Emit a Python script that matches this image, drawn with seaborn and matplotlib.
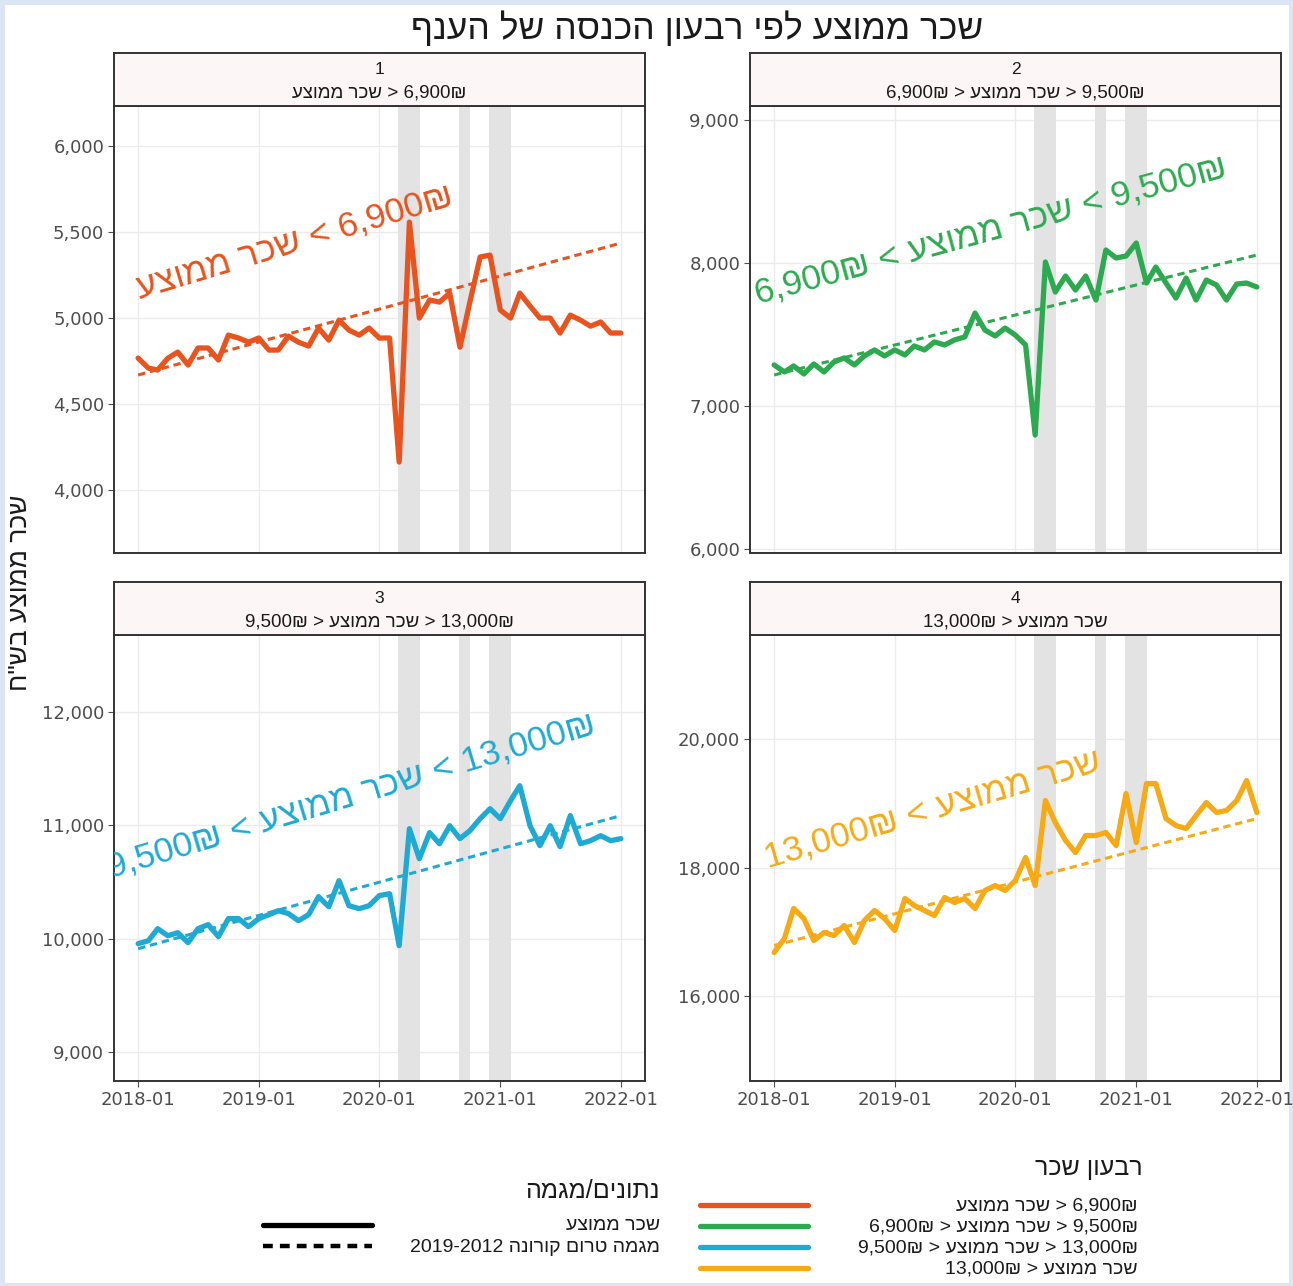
import numpy as np
import pandas as pd
import matplotlib
matplotlib.use("Agg")
import matplotlib.pyplot as plt
import matplotlib.dates as mdates
from matplotlib.lines import Line2D
from matplotlib.patches import Rectangle
from matplotlib.ticker import FuncFormatter, FixedLocator
import seaborn as sns

sns.set_theme(style="white")
plt.rcParams["font.family"] = ["Liberation Sans", "DejaVu Sans"]

# ---------------- data ----------------
months = pd.date_range("2018-01-01", "2022-01-01", freq="MS")

wage_q1 = [4767, 4709, 4698, 4767, 4802, 4727, 4826, 4826, 4756, 4901, 4884, 4860,
           4884, 4814, 4814, 4895, 4860, 4837, 4942, 4872, 4988, 4930, 4901, 4942,
           4884, 4884, 4163, 5558, 5000, 5105, 5093, 5145, 4831, 5093, 5355, 5366,
           5047, 5000, 5145, 5070, 5000, 5000, 4913, 5017, 4988, 4953, 4977, 4913,
           4913]
wage_q2 = [7287, 7238, 7280, 7224, 7294, 7238, 7308, 7336, 7287, 7350, 7392, 7350,
           7392, 7357, 7420, 7392, 7448, 7427, 7462, 7483, 7650, 7531, 7490, 7545,
           7496, 7427, 6797, 8007, 7797, 7909, 7811, 7909, 7741, 8091, 8035, 8049,
           8140, 7860, 7972, 7860, 7755, 7895, 7741, 7881, 7846, 7741, 7853, 7860,
           7832]
wage_q3 = [9956, 9982, 10088, 10026, 10053, 9965, 10088, 10124, 10018, 10177, 10177, 10106,
           10177, 10212, 10247, 10221, 10159, 10212, 10371, 10282, 10512, 10291, 10265, 10291,
           10380, 10397, 9938, 10971, 10706, 10936, 10838, 10997, 10883, 10953, 11059, 11147,
           11059, 11218, 11350, 10997, 10821, 10997, 10812, 11086, 10838, 10865, 10909, 10865,
           10883]
wage_q4 = [16677, 16895, 17362, 17206, 16864, 16988, 16942, 17097, 16833, 17175, 17331, 17206,
           17020, 17518, 17409, 17331, 17253, 17533, 17455, 17518, 17362, 17642, 17720, 17642,
           17798, 18156, 17720, 19042, 18700, 18420, 18233, 18498, 18498, 18545, 18342, 19151,
           18389, 19307, 19307, 18762, 18653, 18607, 18809, 19011, 18856, 18887, 19042, 19353,
           18856]

trend_dates = ["2018-01-01", "2022-01-01"]
trend_q1 = [4669, 5436]
trend_q2 = [7217, 8056]
trend_q3 = [9912, 11086]
trend_q4 = [16786, 18762]

lockdowns = [("2020-02-27", "2020-05-04"), ("2020-08-29", "2020-10-01"),
             ("2020-11-28", "2021-02-03")]

y_ticks = [[4000, 4500, 5000, 5500, 6000], [6000, 7000, 8000, 9000],
           [9000, 10000, 11000, 12000], [16000, 18000, 20000]]
x_tick_dates = ["2018-01-01", "2019-01-01", "2020-01-01", "2021-01-01", "2022-01-01"]


def rv(s):
    return s[::-1]


AVG = rv("שכר ממוצע")
strip_labels = [AVG + " > 6,900₪",
                "6,900₪ > " + AVG + " > 9,500₪",
                "9,500₪ > " + AVG + " > 13,000₪",
                "13,000₪ > " + AVG]
annot_labels = [AVG + " < 6,900₪",
                "6,900₪ < " + AVG + " < 9,500₪",
                "9,500₪ < " + AVG + " < 13,000₪",
                "13,000₪ < " + AVG]
title = rv("שכר ממוצע לפי רבעון הכנסה של הענף")
ylabel = rv('שכר ממוצע בש"ח')
leg1_title = rv("נתונים/מגמה")
leg1_items = [rv("שכר ממוצע"), "2019-2012 " + rv("מגמה טרום קורונה")]
leg2_title = rv("רבעון שכר")

colors = ["#E9531D", "#2DAA4F", "#1EAAD3", "#F7AA14"]

df = pd.DataFrame({
    "month": np.tile(months, 4),
    "wage": np.concatenate([wage_q1, wage_q2, wage_q3, wage_q4]),
    "group": np.repeat([1, 2, 3, 4], len(months)),
})
trend_df = pd.DataFrame({
    "month": np.tile(pd.to_datetime(trend_dates), 4),
    "wage": np.concatenate([trend_q1, trend_q2, trend_q3, trend_q4]),
    "group": np.repeat([1, 2, 3, 4], 2),
})

# ---------------- layout ----------------
W, H = 1293, 1286
fig = plt.figure(figsize=(W / 100, H / 100), dpi=100)
fig.patch.set_facecolor("#DCE5F3")
fig.add_artist(Rectangle((5 / W, 3 / H), (W - 9) / W, (H - 8) / H,
                         transform=fig.transFigure, facecolor="white",
                         edgecolor="none", zorder=0))


def fx(x):
    return x / W


def fy(y):
    return 1 - y / H


panel_px = [(114, 645, 106, 553), (750, 1281, 106, 553),
            (114, 645, 635, 1081), (750, 1281, 635, 1081)]
strip_h = 53
ylims = [(3634, 6233), (5972, 9098), (8744, 12680), (14677, 21619)]
annot_pos = [("2019-04-20", 5440, 16.7), ("2019-10-20", 8225, 15.2),
             ("2019-10-10", 11262, 16.6), ("2019-04-25", 18905, 16.3)]

x0d = mdates.date2num(pd.Timestamp("2018-01-01"))
x1d = mdates.date2num(pd.Timestamp("2022-01-01"))
pad = (x1d - x0d) * 0.05
edge = "#333333"
tick_col = "#4D4D4D"
txt_col = "#1A1A1A"

for i, g in enumerate([1, 2, 3, 4]):
    xl, xr, yt, yb = panel_px[i]
    ax = fig.add_axes([fx(xl), fy(yb), (xr - xl) / W, (yb - yt) / H])
    ax.set_facecolor("white")
    for s, e in lockdowns:
        ax.axvspan(pd.Timestamp(s), pd.Timestamp(e), color="#E3E3E3", lw=0, zorder=0.8)
    sub = df[df.group == g]
    tsub = trend_df[trend_df.group == g]
    sns.lineplot(data=tsub, x="month", y="wage", ax=ax, color=colors[i], lw=2.2,
                 linestyle=(0, (2.4, 1.6)), legend=False, zorder=2)
    sns.lineplot(data=sub, x="month", y="wage", ax=ax, color=colors[i], lw=3.8,
                 legend=False, zorder=3, solid_joinstyle="round", solid_capstyle="round")
    ax.set_xlim(x0d - pad, x1d + pad)
    ax.set_ylim(*ylims[i])
    ax.xaxis.set_major_locator(FixedLocator([mdates.date2num(pd.Timestamp(d)) for d in x_tick_dates]))
    ax.yaxis.set_major_locator(FixedLocator(y_ticks[i]))
    ax.yaxis.set_major_formatter(FuncFormatter(lambda v, p: f"{v:,.0f}"))
    ax.set_xlabel("")
    ax.set_ylabel("")
    ax.grid(True, color="#EBEBEB", lw=1.0)
    ax.set_axisbelow(True)
    ax.tick_params(axis="both", which="major", length=4, width=0.8, color=tick_col,
                   labelcolor=tick_col, labelsize=13, pad=3, bottom=True, left=True)
    if i >= 2:
        ax.set_xticklabels([pd.Timestamp(d).strftime("%Y-%m") for d in x_tick_dates])
    else:
        ax.set_xticklabels([])
        ax.tick_params(axis="x", length=0)
    for lab in ax.get_xticklabels() + ax.get_yticklabels():
        lab.set_family(["DejaVu Sans"])
    for sp in ax.spines.values():
        sp.set_color(edge)
        sp.set_linewidth(1.4)
    d, v, rot = annot_pos[i]
    ax.text(pd.Timestamp(d), v, annot_labels[i], color=colors[i], fontsize=25.5,
            rotation=rot, rotation_mode="anchor", ha="center", va="center",
            clip_on=True, zorder=4)

    sax = fig.add_axes([fx(xl), fy(yt), (xr - xl) / W, strip_h / H])
    sax.set_facecolor("#FDF6F6")
    sax.set_xticks([])
    sax.set_yticks([])
    for sp in sax.spines.values():
        sp.set_color(edge)
        sp.set_linewidth(1.4)
    sax.text(0.5, 0.69, str(g), ha="center", va="center", fontsize=12.5, color=txt_col)
    sax.text(0.5, 0.25, strip_labels[i], ha="center", va="center", fontsize=13.5,
             color=txt_col)

# title & y label
fig.text(fx(697), fy(28), title, ha="center", va="center", fontsize=25.5, color=txt_col)
fig.text(fx(20), fy(593), ylabel, ha="center", va="center", rotation=90, fontsize=19,
         color=txt_col)

# legend 1 (data / trend)
fig.text(fx(660), fy(1191), leg1_title, ha="right", va="center", fontsize=18,
         color=txt_col)
for k, (yy, ls) in enumerate([(1225, "-"), (1246, (0, (2.2, 1.6)))]):
    fig.add_artist(Line2D([fx(263), fx(372)], [fy(yy), fy(yy)], color="black",
                          lw=3.8 if k == 0 else 3.2, ls=ls, transform=fig.transFigure))
    fig.text(fx(660), fy(yy + 1), leg1_items[k], ha="right", va="center", fontsize=14,
             color=txt_col)

# legend 2 (quartiles)
fig.text(fx(1143), fy(1168), leg2_title, ha="right", va="center", fontsize=18,
         color=txt_col)
for k, yy in enumerate([1205, 1226, 1247, 1268]):
    fig.add_artist(Line2D([fx(700), fx(808)], [fy(yy), fy(yy)], color=colors[k], lw=3.8,
                          transform=fig.transFigure))
    fig.text(fx(1138), fy(yy + 1), strip_labels[k], ha="right", va="center", fontsize=14,
             color=txt_col)

fig.savefig("out.png", dpi=100, facecolor=fig.get_facecolor())
